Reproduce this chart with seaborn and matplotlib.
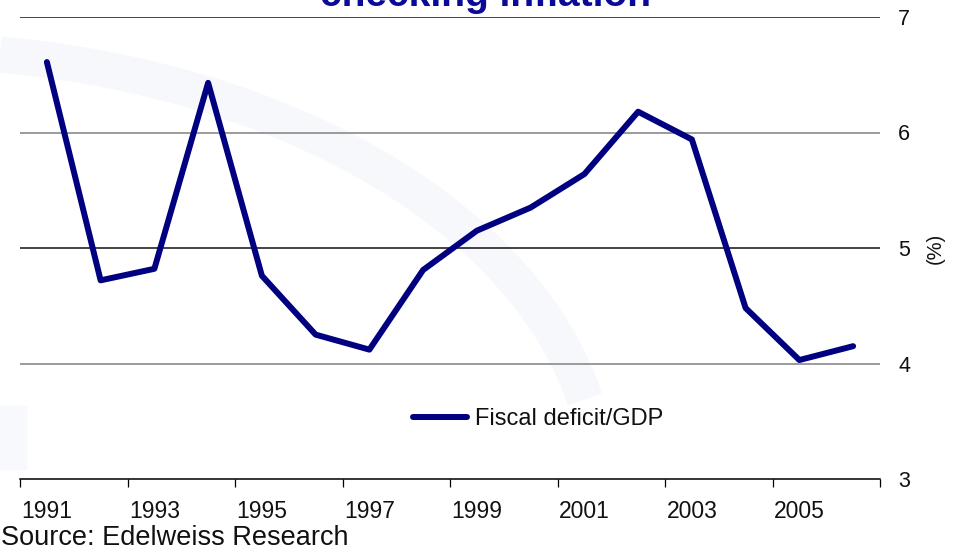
import matplotlib
matplotlib.use("Agg")
import matplotlib.pyplot as plt
import seaborn as sns
import pandas as pd
import numpy as np
from matplotlib.lines import Line2D
from matplotlib.ticker import FixedLocator

# Fiscal deficit as a share of GDP, 1991-2006
years = [1991, 1992, 1993, 1994, 1995, 1996, 1997, 1998,
         1999, 2000, 2001, 2002, 2003, 2004, 2005, 2006]
deficit = [6.61, 4.72, 4.82, 6.43, 4.76, 4.25, 4.12, 4.81,
           5.15, 5.35, 5.64, 6.18, 5.94, 4.48, 4.03, 4.15]
year_labels = ["1991", "1993", "1995", "1997", "1999", "2001", "2003", "2005"]
y_ticks = [3, 4, 5, 6, 7]
series_name = "Fiscal deficit/GDP"

df = pd.DataFrame({"year": years, series_name: deficit})

sns.set_theme(style="white")
plt.rcParams["font.family"] = ["Liberation Sans", "DejaVu Sans"]

navy = "#000080"
W, H = 956, 552
fig = plt.figure(figsize=(W / 100, H / 100), dpi=100)
fig.patch.set_facecolor("white")

# Faint background swoosh: quarter of an ellipse, in pixel units
ex, ey, ea, eb = -100, 490, 700, 440
sw_x = np.linspace(0, 585, 120)
sw_y = ey - eb * np.sqrt(np.clip(1 - ((sw_x - ex) / ea) ** 2, 0, None))
fig.add_artist(Line2D(sw_x / W, 1 - sw_y / H, transform=fig.transFigure,
                      color="#f7f8fb", linewidth=26, solid_capstyle="butt", zorder=0))
fig.add_artist(Line2D([10 / W, 10 / W], [1 - 405 / H, 1 - 470 / H], transform=fig.transFigure,
                      color="#f7f9fd", linewidth=24, solid_capstyle="butt", zorder=0))

left, right, top, bottom = 20, 880, 17, 479
ax = fig.add_axes([left / W, 1 - bottom / H, (right - left) / W, (bottom - top) / H])
ax.set_facecolor("none")

sns.lineplot(data=df, x="year", y=series_name, ax=ax, color=navy,
             linewidth=4.3, solid_capstyle="round", legend=False)

ax.set_xlim(years[0] - 0.5, years[-1] + 0.5)
ax.set_ylim(y_ticks[0], y_ticks[-1])

# Category-style x axis: labels every other year, tick marks at group edges
ax.xaxis.set_major_locator(FixedLocator([int(s) for s in year_labels]))
ax.set_xticklabels(year_labels)
edges = [years[0] - 0.5 + 2 * i for i in range(len(years) // 2 + 1)]
ax.xaxis.set_minor_locator(FixedLocator(edges))
ax.tick_params(axis="x", which="major", length=0, pad=15, labelsize=16.5, labelcolor="#111111")
ax.tick_params(axis="x", which="minor", length=6, width=0.9, color="black", direction="out", bottom=True)

# Value axis on the right
ax.yaxis.tick_right()
ax.set_yticks(y_ticks)
ax.set_yticklabels([str(v) for v in y_ticks])
ax.tick_params(axis="y", length=0, pad=13, labelsize=15.5, labelcolor="#111111")
ax.set_ylabel("")
ax.set_xlabel("")

# Horizontal gridlines
grid_colors = {4: "#808080", 5: "#111111", 6: "#808080", 7: "#111111"}
for v, c in grid_colors.items():
    ax.axhline(v, color=c, linewidth=1.1, zorder=0)

for s in ["top", "left", "right"]:
    ax.spines[s].set_visible(False)
ax.spines["bottom"].set_color("black")
ax.spines["bottom"].set_linewidth(1.1)

fig.text(935 / W, 1 - 248 / H, "(%)", rotation=90, ha="center", va="center",
         fontsize=14.5, color="#111111")

# Title (partially above the canvas)
fig.text(486 / W, 1 - 6 / H, "checking inflation", ha="center", va="baseline",
         fontsize=28, fontweight="bold", color="#0a0a99")

handle = Line2D([], [], color=navy, linewidth=4.3, solid_capstyle="round")
ax.legend([handle], [series_name], loc="center", frameon=False,
          bbox_to_anchor=(538 / W, 1 - 419 / H), bbox_transform=fig.transFigure,
          fontsize=17, handlelength=2.3, handletextpad=0.3, labelcolor="#111111")

fig.text(1 / W, 1 - 538 / H, "Source: Edelweiss Research", ha="left", va="center",
         fontsize=19.5, color="#111111")

fig.savefig("out.png", dpi=100)
